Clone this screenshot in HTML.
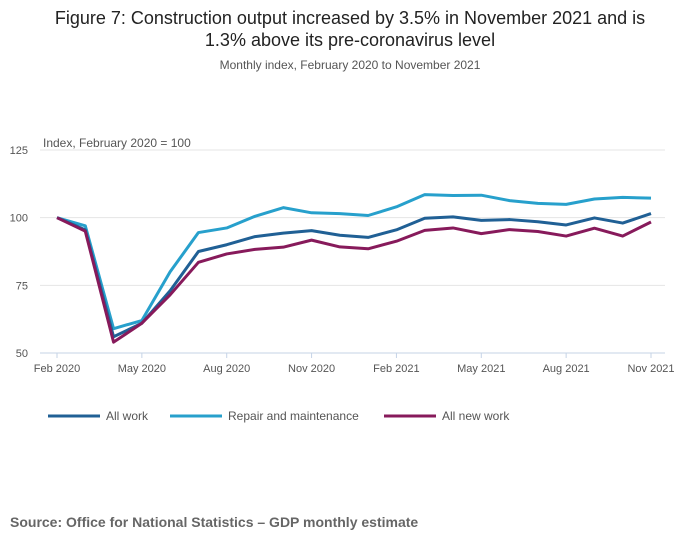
<!DOCTYPE html>
<html><head><meta charset="utf-8"><style>
body{margin:0;background:#fff;font-family:"Liberation Sans",sans-serif;}
svg text{font-family:"Liberation Sans",sans-serif;}
</style></head><body>
<svg width="700" height="549" viewBox="0 0 700 549" xmlns="http://www.w3.org/2000/svg">
<text x="350" y="24" text-anchor="middle" font-size="18" fill="#222">Figure 7: Construction output increased by 3.5% in November 2021 and is</text>
<text x="350" y="46" text-anchor="middle" font-size="18" fill="#222">1.3% above its pre-coronavirus level</text>
<text x="350" y="69" text-anchor="middle" font-size="12" fill="#555">Monthly index, February 2020 to November 2021</text>
<text x="43" y="147" font-size="12" fill="#555">Index, February 2020 = 100</text>
<g id="grid"></g><g id="axis"></g><g id="lines"></g>
<g>
<line x1="48" y1="416" x2="100" y2="416" stroke="#206095" stroke-width="3"/>
<text x="106" y="420" font-size="12" fill="#555">All work</text>
<line x1="170" y1="416" x2="222" y2="416" stroke="#27a0cc" stroke-width="3"/>
<text x="228" y="420" font-size="12" fill="#555">Repair and maintenance</text>
<line x1="384" y1="416" x2="436" y2="416" stroke="#871a5b" stroke-width="3"/>
<text x="442" y="420" font-size="12" fill="#555">All new work</text>
</g>
<text x="10" y="527" font-size="14" font-weight="bold" fill="#666">Source: Office for National Statistics – GDP monthly estimate</text>
</svg>
<script>
const yTicks=[50,75,100,125];
const xLabels=["Feb 2020","May 2020","Aug 2020","Nov 2020","Feb 2021","May 2021","Aug 2021","Nov 2021"];
const allWork=[100,95.5,56,61,73,87.5,90,93,94.3,95.2,93.5,92.7,95.5,99.8,100.3,99,99.3,98.5,97.3,99.9,98,101.5];
const repair=[100,97,59,62,80,94.5,96.2,100.5,103.7,101.8,101.5,100.8,104,108.5,108.2,108.3,106.3,105.3,104.9,106.9,107.5,107.2];
const newWork=[100,95,54,61,71.5,83.5,86.6,88.3,89.1,91.7,89.2,88.5,91.3,95.3,96.2,94.1,95.6,94.9,93.2,96.1,93.2,98.4];
const NS="http://www.w3.org/2000/svg";
const x=i=>57+i*(651-57)/21;
const y=v=>353-(v-50)*(353-150)/75;
function mk(t,a,p){const e=document.createElementNS(NS,t);for(const k in a)e.setAttribute(k,a[k]);p.appendChild(e);return e;}
const g=document.getElementById('grid'),ax=document.getElementById('axis'),ln=document.getElementById('lines');
yTicks.forEach(v=>{
 const l=mk('line',{x1:40,x2:665,y1:y(v),y2:y(v),stroke:v===50?'#c5d3e6':'#e4e4e4','stroke-width':1},g);
 
 
 const t=mk('text',{x:28,y:y(v)+4,'font-size':11,fill:'#555','text-anchor':'end'},g);t.textContent=v;
 
 
});
xLabels.forEach((s,k)=>{
 const xx=x(k*3);
 mk('line',{x1:xx,x2:xx,y1:353,y2:358,stroke:'#c5d3e6'},ax);
 const t=mk('text',{x:xx,y:372,'font-size':11,fill:'#555','text-anchor':'middle'},ax);t.textContent=s;
 
 
});
[[repair,'#27a0cc','line-repair'],[allWork,'#206095','line-all-work'],[newWork,'#871a5b','line-new-work']].forEach(([d,c,n])=>{
 const p=mk('polyline',{points:d.map((v,i)=>x(i)+','+y(v)).join(' '),fill:'none',stroke:c,'stroke-width':3,'stroke-linejoin':'round'},ln);
 
 
});
</script>
</body></html>
